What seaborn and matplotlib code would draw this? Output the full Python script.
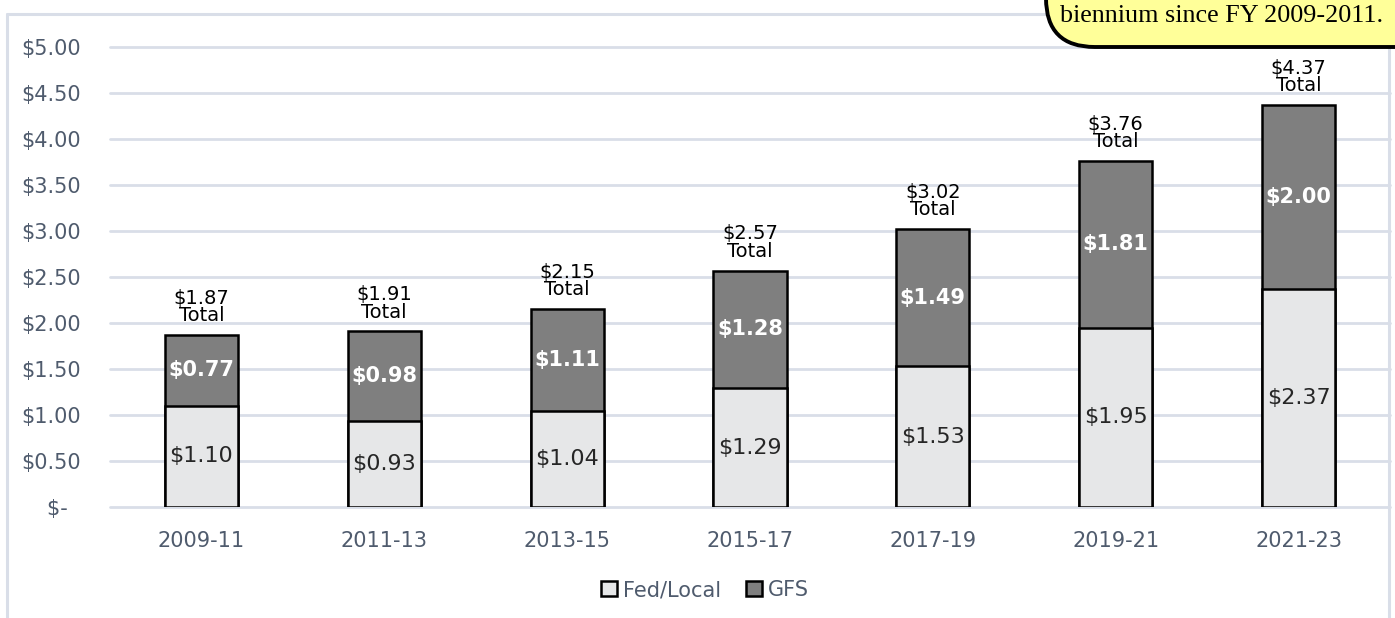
import matplotlib
matplotlib.use("Agg")
import matplotlib.pyplot as plt
from matplotlib.patches import FancyBboxPatch, Patch
from matplotlib.lines import Line2D
import seaborn as sns
import pandas as pd

# data ($ billions)
biennia = ["2009-11", "2011-13", "2013-15", "2015-17", "2017-19", "2019-21", "2021-23"]
fed_local = [1.10, 0.93, 1.04, 1.29, 1.53, 1.95, 2.37]
gfs = [0.77, 0.98, 1.11, 1.28, 1.49, 1.81, 2.00]
totals = [1.87, 1.91, 2.15, 2.57, 3.02, 3.76, 4.37]
yticks = [0, 0.5, 1.0, 1.5, 2.0, 2.5, 3.0, 3.5, 4.0, 4.5, 5.0]

df = pd.DataFrame({"biennium": biennia, "fed": fed_local, "gfs": gfs, "total": totals})

sns.set_theme(style="white")
plt.rcParams["font.family"] = ["DejaVu Sans"]

tick_col = "#4f5b6d"
grid_col = "#d9dee8"
fed_col = "#e6e7e8"
gfs_col = "#7f7f7f"

fig = plt.figure(figsize=(13.95, 6.18), dpi=100)
ax = fig.add_axes([110 / 1395, 1 - 507 / 618, 1280 / 1395, 460 / 618])

# stacked bars: total (GFS colour) underneath, Fed/Local drawn over the bottom part
sns.barplot(data=df, x="biennium", y="total", color=gfs_col, saturation=1, width=0.4,
            edgecolor="black", linewidth=1.8, ax=ax, zorder=3)
sns.barplot(data=df, x="biennium", y="fed", color=fed_col, saturation=1, width=0.4,
            edgecolor="black", linewidth=1.8, ax=ax, zorder=4)

ax.set_ylim(0, 5)
ax.set_xlim(-0.5, len(biennia) - 0.5)
ax.set_yticks(yticks)
ax.set_yticklabels([f"${v:.2f}" if v > 0 else "$-  " for v in yticks])
ax.set_xlabel("")
ax.set_ylabel("")
ax.yaxis.grid(True, color=grid_col, linewidth=2)
for gl in ax.yaxis.get_gridlines():
    gl.set_clip_on(False)
ax.set_axisbelow(True)
for s in ax.spines.values():
    s.set_visible(False)
ax.tick_params(axis="y", length=0, pad=21, labelsize=15, labelcolor=tick_col)
ax.tick_params(axis="x", length=0, pad=17, labelsize=15, labelcolor=tick_col)

# segment and total labels
for i in range(len(biennia)):
    ax.text(i, fed_local[i] / 2, f"${fed_local[i]:.2f}", ha="center", va="center",
            fontsize=16, color="#262626", zorder=6)
    ax.text(i, fed_local[i] + gfs[i] / 2, f"${gfs[i]:.2f}", ha="center", va="center",
            fontsize=15, color="white", fontweight="bold", zorder=6)
    ax.annotate(f"${totals[i]:.2f}\nTotal", (i, totals[i]), xytext=(0, 7),
                textcoords="offset points", ha="center", va="bottom",
                fontsize=14, color="black", linespacing=0.9, zorder=6)

# legend
handles = [Patch(facecolor=fed_col, edgecolor="black", linewidth=1.8, label="Fed/Local"),
           Patch(facecolor=gfs_col, edgecolor="black", linewidth=1.8, label="GFS")]
leg = fig.legend(handles=handles, loc="center", bbox_to_anchor=(705 / 1395, 1 - 590 / 618),
                 ncol=2, frameon=False, fontsize=15, handlelength=0.75, handleheight=0.75,
                 handletextpad=0.3, columnspacing=1.2)
for t in leg.get_texts():
    t.set_color(tick_col)

# chart frame (only left/top/right visible in the crop)
W, H = 1395, 618
fig.add_artist(Line2D([7 / W, 7 / W], [0, 1 - 14 / H], color=grid_col, lw=2.2, transform=fig.transFigure))
fig.add_artist(Line2D([7 / W, 1389 / W], [1 - 14 / H, 1 - 14 / H], color=grid_col, lw=2.2, transform=fig.transFigure))
fig.add_artist(Line2D([1389 / W, 1389 / W], [0, 1 - 14 / H], color=grid_col, lw=2.2, transform=fig.transFigure))

# yellow callout, cut off by the top-right corner
box = FancyBboxPatch((1046 / W, 1 - 47 / H), 400 / W, 120 / H,
                     boxstyle="round,pad=0,rounding_size=0.035", transform=fig.transFigure,
                     facecolor="#ffff99", edgecolor="black", linewidth=2.8, zorder=10,
                     mutation_aspect=W / H)
fig.add_artist(box)
fig.text(1383 / W, 1 - 22 / H, "biennium since FY 2009-2011.", ha="right", va="baseline",
         fontsize=18.8, family=["Liberation Serif"], color="black", zorder=11)

fig.savefig("out.png", dpi=100)
